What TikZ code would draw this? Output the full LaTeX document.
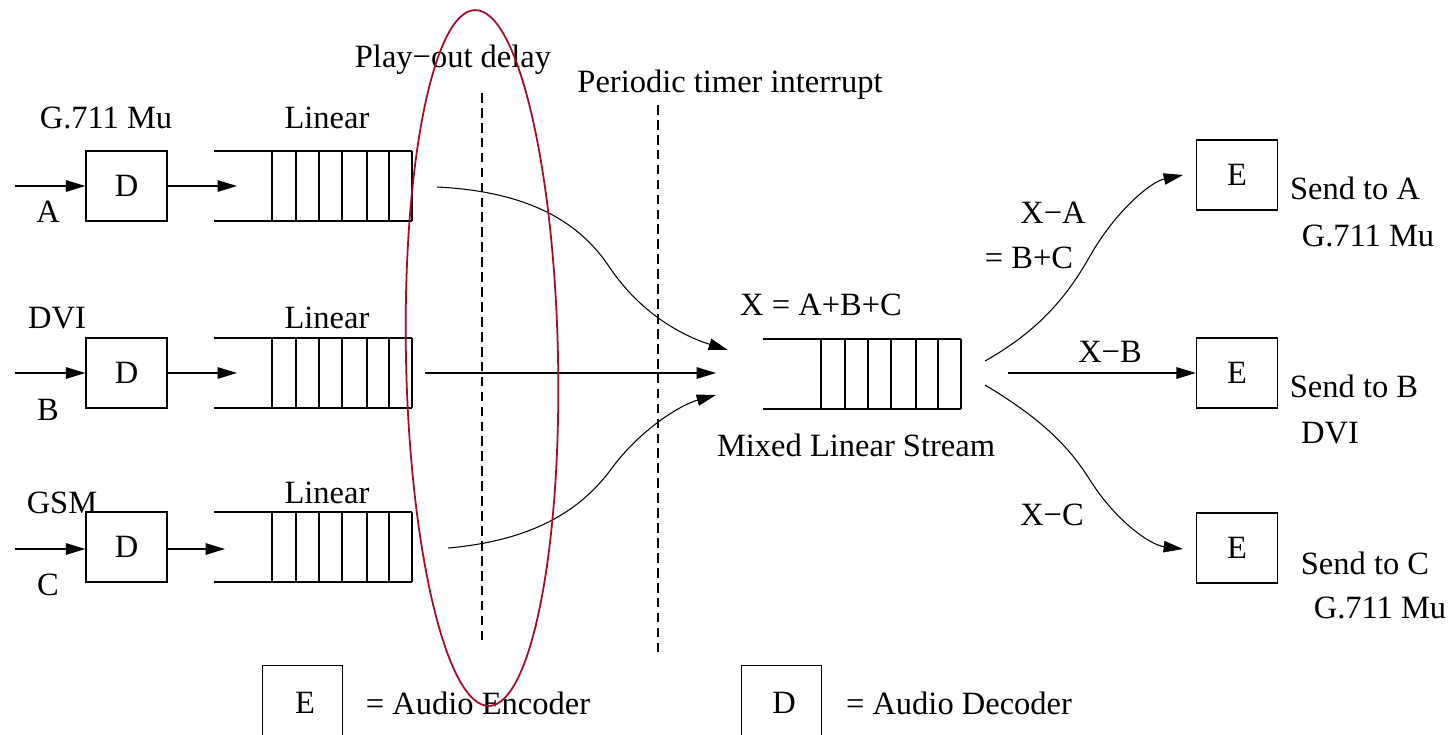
\documentclass[tikz,border=0pt]{standalone}
\usepackage{fontspec}
\setmainfont{Liberation Serif}
\usetikzlibrary{arrows.meta}
\definecolor{ellred}{RGB}{165,10,40}
\begin{document}
\begin{tikzpicture}[x=0.02cm,y=-0.02cm,
  font=\fontsize{18.5}{22}\selectfont,
  line width=0.8pt,
  box/.style={draw, minimum width=1.62cm, minimum height=1.4cm, inner sep=0pt},
  legbox/.style={draw, minimum width=1.6cm, minimum height=1.9cm, inner sep=0pt, anchor=north west},
  lbl/.style={inner sep=0pt, anchor=center},
  tip/.style={-{Triangle[length=11pt,width=6.5pt]}},
  flow/.style={line width=0.6pt, tip},
  divider/.style={line width=0.7pt, dash pattern=on 5.5pt off 3pt},
  queue/.pic={
    \draw (0,0) -- (198,0) (0,70) -- (198,70);
    \foreach \v in {58,82,105,128,153,175,198} \draw (\v,0) -- (\v,70);
  }
]
\useasboundingbox (0,0) rectangle (1453,734);
\clip (0,0) rectangle (1453,734);

% ---------- dividers and ellipse ----------
\coordinate (pdTop) at (482,93);
\coordinate (pdBot) at (482,644);
\draw[divider] (pdTop) -- (pdBot);
\coordinate (ptTop) at (658,105);
\coordinate (ptBot) at (658,657);
\draw[divider] (ptTop) -- (ptBot);
\node[lbl] (playout) at (453,60) {Play−out delay};
\node[lbl] (periodic) at (730,85) {Periodic timer interrupt};

% ---------- inputs ----------
\node[box] (dA) at (126.5,186) {D};
\node[box] (dB) at (126.5,373) {D};
\node[box] (dC) at (126.5,547) {D};

\coordinate (inA) at (15,186);
\coordinate (inB) at (15,373);
\coordinate (inC) at (15,549);
\draw[tip] (inA) -- (dA.west);
\draw[tip] (inB) -- (dB.west);
\draw[tip] (inC) -- (dC.west |- inC);

\coordinate (qinA) at (237,186);
\coordinate (qinB) at (237,373);
\coordinate (qinC) at (225,549);
\draw[tip] (dA.east) -- (qinA);
\draw[tip] (dB.east) -- (qinB);
\draw[tip] (dC.east |- qinC) -- (qinC);

\node[lbl] (codecA) at (106,118) {G.711 Mu};
\node[lbl] (codecB) at (57,318) {DVI};
\node[lbl] (codecC) at (62,503) {GSM};
\node[lbl] (srcA) at (48,212) {A};
\node[lbl] (srcB) at (48,410) {B};
\node[lbl] (srcC) at (48,585) {C};

\pic at (214,151) {queue};
\pic at (214,338) {queue};
\pic at (214,512) {queue};
\node[lbl] (linA) at (327,118) {Linear};
\node[lbl] (linB) at (327,318) {Linear};
\node[lbl] (linC) at (327,493) {Linear};

% ---------- flows into mixer ----------
\coordinate (sA) at (437,187);
\coordinate (sB) at (425,373);
\coordinate (sC) at (448,548);
\coordinate (mA) at (728,350);
\coordinate (mB) at (716,373);
\coordinate (mC) at (716,395);
\draw[flow] (sA) .. controls (540,192) and (585,230) .. (610,268)
            .. controls (640,312) and (680,335) .. (mA);
\draw[tip] (sB) -- (mB);
\draw[flow] (sC) .. controls (540,540) and (585,505) .. (612,468)
            .. controls (640,430) and (680,405) .. (mC);

% ---------- mixed stream ----------
\pic at (763,339) {queue};
\node[lbl] (mixsum) at (821,305) {X = A+B+C};
\node[lbl] (mixname) at (856,445) {Mixed Linear Stream};

% ---------- outputs ----------
\node[box] (eA) at (1237,175) {E};
\node[box] (eB) at (1237,373) {E};
\node[box] (eC) at (1237,548) {E};

\coordinate (oA) at (985,361);
\coordinate (oB) at (1008,373);
\coordinate (oC) at (985,385);
\coordinate (tA) at (1183,175);
\coordinate (tC) at (1183,549);
\draw[flow] (oA) .. controls (1040,330) and (1068,295) .. (1090,256)
            .. controls (1115,212) and (1150,182) .. (tA);
\draw[tip] (oB) -- (eB.west);
\draw[flow] (oC) .. controls (1040,418) and (1068,445) .. (1090,480)
            .. controls (1115,520) and (1150,545) .. (tC);

\node[lbl] (xa) at (1053,213) {X−A};
\node[lbl] (xabc) at (1029,258) {= B+C};
\node[lbl] (xb) at (1110,352) {X−B};
\node[lbl] (xc) at (1052,515) {X−C};

\node[lbl] (sendA) at (1355,188) {Send to A};
\node[lbl] (fmtA) at (1368,236) {G.711 Mu};
\node[lbl] (sendB) at (1354,386) {Send to B};
\node[lbl] (fmtB) at (1330,433) {DVI};
\node[lbl] (sendC) at (1365,563) {Send to C};
\node[lbl] (fmtC) at (1380,608) {G.711 Mu};

% ---------- legend ----------
\node[legbox] (legE) at (262,665) {};
\node[lbl] at (305,703) {E};
\node[lbl] (legEtxt) at (478,703) {= Audio Encoder};
\node[legbox] (legD) at (741,665) {};
\node[lbl] at (784,703) {D};
\node[lbl] (legDtxt) at (959,703) {= Audio Decoder};

% ---------- ellipse ----------
\draw[ellred, line width=1pt, rotate around={1.15:(482,358)}] (482,358) ellipse [x radius=76, y radius=348];
\end{tikzpicture}
\end{document}
